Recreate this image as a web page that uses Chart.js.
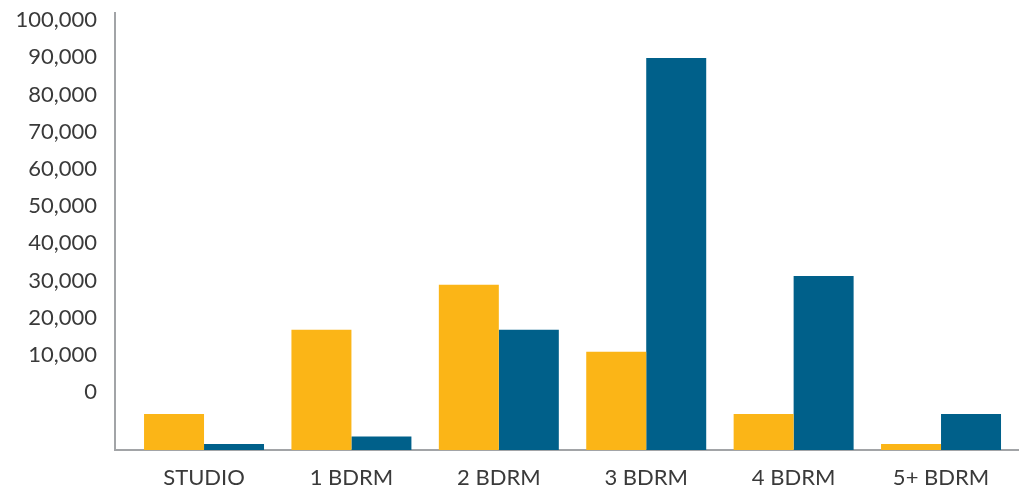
<!DOCTYPE html>
<html lang="en">
<head>
  <meta charset="UTF-8">
  <title>Units by bedroom count</title>
  <script src="https://cdn.jsdelivr.net/npm/chart.js"></script>
  <style>
    html, body {
      margin: 0;
      padding: 0;
      background: #fff;
    }
    #wrap {
      width: 1019px;
      height: 490px;
    }
  </style>
</head>
<body>
  <div id="wrap"><canvas id="unitsChart"></canvas></div>

  <script>
    // categories and series (values read against the printed tick labels)
    var categories = ['STUDIO', '1 BDRM', '2 BDRM', '3 BDRM', '4 BDRM', '5+ BDRM'];
    var yellowValues = [-5900, 16700, 28800, 10800, -5900, -14000];
    var blueValues = [-14000, -12000, 16700, 89800, 31200, -5900];
    var yTicks = [0, 10000, 20000, 30000, 40000, 50000, 60000, 70000, 80000, 90000, 100000];

    // the axis floor sits below the "0" label in the original
    var yMin = -15600;
    var yMax = 101900;

    function toPoints(values) {
      return values.map(function (v, i) { return { x: i, y: v }; });
    }

    var font = { family: 'Lato, "Noto Sans", sans-serif', size: 22 };

    var ctx = document.getElementById('unitsChart').getContext('2d');

    var unitsChart = new Chart(ctx, {
      type: 'bar',
      data: {
        datasets: [{
          data: toPoints(yellowValues),
          backgroundColor: '#FBB517',
          base: yMin
        }, {
          data: toPoints(blueValues),
          backgroundColor: '#00608A',
          base: yMin
        }]
      },
      options: {
        responsive: true,
        maintainAspectRatio: false,
        animation: false,
        layout: { padding: { top: 13, right: 0, bottom: 0, left: 0 } },
        plugins: {
          legend: { display: false },
          tooltip: { enabled: false }
        },
        datasets: {
          bar: { barPercentage: 1, categoryPercentage: 0.814 }
        },
        scales: {
          x: {
            type: 'linear',
            min: -0.604,
            max: 5.529,
            offset: false,
            z: 1,
            grid: { display: false, offset: false },
            border: { display: true, color: '#A2A4A7', width: 2 },
            afterBuildTicks: function (scale) {
              scale.ticks = categories.map(function (c, i) { return { value: i }; });
            },
            afterFit: function (scale) {
              scale.height = 40;
              scale.paddingLeft = 0;
              scale.paddingRight = 0;
            },
            ticks: {
              autoSkip: false,
              maxRotation: 0,
              padding: 7,
              color: '#3a3a3a',
              font: font,
              callback: function (v) { return categories[v]; }
            }
          },
          y: {
            min: yMin,
            max: yMax,
            grid: { display: false },
            border: { display: true, color: '#A2A4A7', width: 2 },
            afterBuildTicks: function (scale) {
              scale.ticks = yTicks.map(function (t) { return { value: t }; });
            },
            afterFit: function (scale) {
              scale.width = 115;
              scale.paddingTop = 0;
              scale.paddingBottom = 0;
            },
            ticks: {
              padding: 10,
              color: '#3a3a3a',
              font: font,
              callback: function (v) { return v.toLocaleString('en-US'); }
            }
          }
        }
      }
    });
  </script>
</body>
</html>
